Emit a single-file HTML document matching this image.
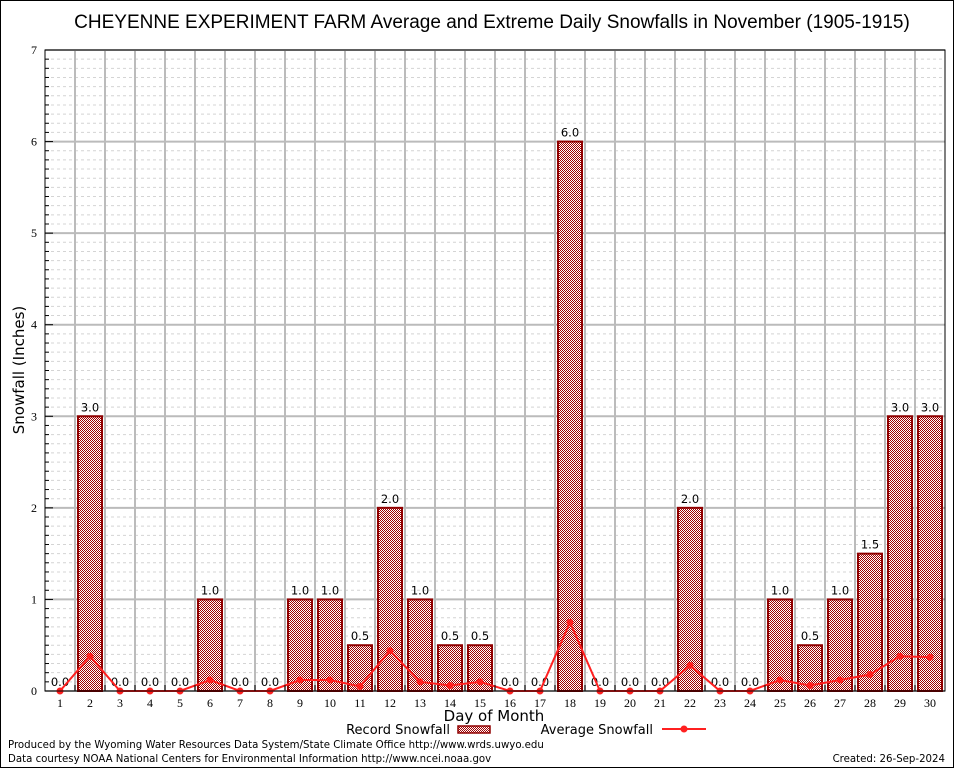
<!DOCTYPE html>
<html><head><meta charset="utf-8">
<style>
body{margin:0;background:#fff;}
svg{display:block;font-family:"DejaVu Sans","Liberation Sans",sans-serif;}
</style></head>
<body>
<svg id="chart" width="954" height="768" xmlns="http://www.w3.org/2000/svg">
<defs>
<pattern id="chk" width="2" height="2" patternUnits="userSpaceOnUse">
<rect width="2" height="2" fill="#fff"/>
<rect width="1" height="1" fill="#a00000"/>
<rect x="1" y="1" width="1" height="1" fill="#a00000"/>
</pattern>
</defs>
<rect x="0.5" y="0.5" width="953" height="767" fill="#fff" stroke="#000"/>
<text x="492" y="28" font-size="19" text-anchor="middle" font-family="Liberation Sans, sans-serif">CHEYENNE EXPERIMENT FARM Average and Extreme Daily Snowfalls in November (1905-1915)</text>
<g id="grid"></g>
<g id="bars"></g>
<g id="line"></g>
<g id="axes"></g>
<text transform="translate(24,370) rotate(-90)" font-size="15" text-anchor="middle">Snowfall (Inches)</text>
<text x="494" y="721" font-size="15" text-anchor="middle">Day of Month</text>
<g>
<text x="450" y="734" font-size="13" text-anchor="end">Record Snowfall</text>
<rect x="458" y="726" width="32" height="7" fill="url(#chk)" stroke="#900000" stroke-width="1.5"/>
<text x="653" y="734" font-size="13" text-anchor="end">Average Snowfall</text>
<line x1="662" y1="729" x2="706" y2="729" stroke="#ff2020" stroke-width="2"/>
<circle cx="684" cy="729" r="3.5" fill="#ff2020"/>
</g>
<text x="8" y="748" font-size="10.2">Produced by the Wyoming Water Resources Data System/State Climate Office http://www.wrds.uwyo.edu</text>
<text x="8" y="762" font-size="10.2">Data courtesy NOAA National Centers for Environmental Information http://www.ncei.noaa.gov</text>
<text x="945" y="762" font-size="10.2" text-anchor="end">Created:  26-Sep-2024</text>
</svg>
<script>
const days = [1,2,3,4,5,6,7,8,9,10,11,12,13,14,15,16,17,18,19,20,21,22,23,24,25,26,27,28,29,30];
const recordValues = [0,3,0,0,0,1,0,0,1,1,0.5,2,1,0.5,0.5,0,0,6,0,0,0,2,0,0,1,0.5,1,1.5,3,3];
const averageValues = [0,0.38,0,0,0,0.12,0,0,0.12,0.12,0.05,0.44,0.1,0.06,0.1,0,0,0.75,0,0,0,0.28,0,0,0.12,0.06,0.12,0.18,0.38,0.37];
const yTicks = [0,1,2,3,4,5,6,7];

const NS="http://www.w3.org/2000/svg";
const L=45,R=945,T=50,B=691,yMax=7;
const xs=d=>L+(d-0.5)*(R-L)/days.length;
const ys=v=>B-v*(B-T)/yMax;
function mk(tag,attrs,parent){const e=document.createElementNS(NS,tag);for(const k in attrs)e.setAttribute(k,attrs[k]);parent.appendChild(e);return e;}
const grid=document.getElementById('grid'),bars=document.getElementById('bars'),line=document.getElementById('line'),axes=document.getElementById('axes');
for(let i=1;i<yMax*10;i++){if(i%10===0)continue;const y=ys(i/10);
const g=mk('line',{x1:L,x2:R,y1:y,y2:y,stroke:'#d4d4d4','stroke-width':1,'stroke-dasharray':'3,3'},grid);

}
yTicks.forEach(t=>{const y=ys(t);
const g=mk('line',{x1:L,x2:R,y1:y,y2:y,stroke:'#bbb','stroke-width':2},grid);


const tk=mk('line',{x1:L,x2:L+8,y1:y,y2:y,stroke:'#000'},axes);


const tx=mk('text',{x:L-8,y:y+4,'font-size':12,'text-anchor':'end','font-family':'Liberation Serif, serif'},axes);tx.textContent=t;


for(let m=1;m<10&&t<yMax;m++){const my=ys(t+m/10);const mt=mk('line',{x1:L,x2:L+4,y1:my,y2:my,stroke:'#000'},axes);

}
});
for(let k=1;k<days.length;k++){const x=L+k*(R-L)/days.length;
const g=mk('line',{x1:x,x2:x,y1:T,y2:B,stroke:'#bbb','stroke-width':2},grid);


const tk=mk('line',{x1:x,x2:x,y1:B,y2:B-6,stroke:'#000'},axes);

}
const fr=mk('rect',{x:L,y:T,width:R-L,height:B-T,fill:'none',stroke:'#000'},axes);


const bw=24;
days.forEach((d,i)=>{const x=xs(d),v=recordValues[i];
if(v>0){const r=mk('rect',{x:x-bw/2,y:ys(v),width:bw,height:B-ys(v),fill:'url(#chk)',stroke:'#900000','stroke-width':2},bars);

}
const lb=mk('text',{x:x,y:ys(v)-5,'font-size':11.5,'text-anchor':'middle'},bars);lb.textContent=v.toFixed(1);


const dl=mk('text',{x:x,y:B+16,'font-size':12,'text-anchor':'middle','font-family':'Liberation Serif, serif'},axes);dl.textContent=d;


});
const pts=days.map((d,i)=>xs(d)+','+ys(averageValues[i])).join(' ');
const pl=mk('polyline',{points:pts,fill:'none',stroke:'#ff2020','stroke-width':2},line);


days.forEach((d,i)=>{const c=mk('circle',{cx:xs(d),cy:ys(averageValues[i]),r:3.5,fill:'#ff2020'},line);

});
</script>
</body></html>
